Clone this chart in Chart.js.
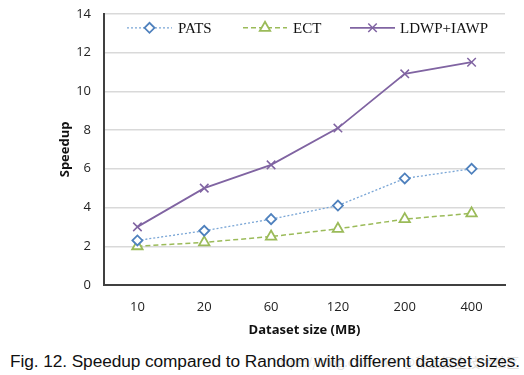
<!DOCTYPE html>
<html>
<head>
<meta charset="utf-8">
<script src="https://cdn.jsdelivr.net/npm/chart.js@4"></script>
<style>
  body { margin: 0; background: #fff; width: 524px; height: 375px; overflow: hidden; position: relative; }
  #wrap { position: absolute; left: 0; top: -7px; width: 524px; height: 349px; }
  #caption { position: absolute; left: 10px; top: 351px; font-family: "Liberation Sans", Arial, sans-serif; font-size: 17.3px; color: #111; white-space: nowrap; }
  #mark { position: absolute; left: 272px; top: 352px; font-family: "Noto Sans CJK SC", sans-serif; font-size: 13px; color: rgba(150,150,150,0.3); white-space: nowrap; }
</style>
</head>
<body>
<div id="wrap"><canvas id="myChart"></canvas></div>
<div id="mark">https://blog.csdn.net @稀土掘金技术社区</div>
<div id="caption">Fig. 12. Speedup compared to Random with different dataset sizes.</div>
<script>
const tamanhos = ["10", "20", "60", "120", "200", "400"];
const pats = [2.3, 2.8, 3.4, 4.1, 5.5, 6.0];
const ect = [2.0, 2.2, 2.5, 2.9, 3.4, 3.7];
const ldwp = [3.0, 5.0, 6.2, 8.1, 10.9, 11.5];
const yTicks = [0, 2, 4, 6, 8, 10, 12, 14];

// ajusta a legenda da figura para ocupar ~500px
const cap = document.getElementById("caption");
const larguraCap = cap.getBoundingClientRect().width;
cap.style.letterSpacing = ((510 - larguraCap) / cap.textContent.length) + "px";

const ctx = document.getElementById("myChart");

// legenda desenhada dentro da area do grafico
const legendaInterna = {
  id: "legendaInterna",
  afterDraw(chart) {
    const c = chart.ctx;
    const y = chart.chartArea.top + 14;
    const itens = [
      { ds: 0, x1: 127, x2: 172, tx: 178 },
      { ds: 1, x1: 243, x2: 287, tx: 293 },
      { ds: 2, x1: 350, x2: 395, tx: 400 },
    ];
    itens.forEach((it) => {
      const ds = chart.data.datasets[it.ds];
      c.save();
      c.strokeStyle = ds.borderColor;
      c.lineWidth = ds.borderWidth;
      c.setLineDash(ds.borderDash || []);
      c.beginPath();
      c.moveTo(it.x1, y);
      c.lineTo(it.x2, y);
      c.stroke();
      c.setLineDash([]);
      c.fillStyle = ds.pointBackgroundColor;
      c.strokeStyle = ds.pointBorderColor;
      c.lineWidth = ds.pointBorderWidth;
      Chart.helpers.drawPoint(c, {
        pointStyle: ds.pointStyle,
        radius: ds.pointRadius,
        borderWidth: ds.pointBorderWidth,
      }, (it.x1 + it.x2) / 2, y);
      c.fillStyle = "#111";
      c.font = "15px 'Liberation Serif', serif";
      c.textBaseline = "middle";
      c.fillText(ds.label, it.tx, y + 1);
      c.restore();
    });
  },
};

new Chart(ctx, {
  type: "line",
  data: {
    labels: tamanhos,
    datasets: [
      {
        label: "PATS",
        data: pats,
        borderColor: "#7aa6d6",
        borderWidth: 1.3,
        borderDash: [2, 2],
        pointStyle: "rectRot",
        pointRadius: 5,
        pointBorderWidth: 1.8,
        pointBorderColor: "#4f81bd",
        pointBackgroundColor: "#ffffff",
      },
      {
        label: "ECT",
        data: ect,
        borderColor: "#9bbb59",
        borderWidth: 1.5,
        borderDash: [5, 3],
        pointStyle: "triangle",
        pointRadius: 6,
        pointBorderWidth: 1.8,
        pointBorderColor: "#9bbb59",
        pointBackgroundColor: "#ffffff",
      },
      {
        label: "LDWP+IAWP",
        data: ldwp,
        borderColor: "#8064a2",
        borderWidth: 1.8,
        pointStyle: "crossRot",
        pointRadius: 6,
        pointBorderWidth: 1.5,
        pointBorderColor: "#8064a2",
        pointBackgroundColor: "#ffffff",
      },
    ],
  },
  options: {
    responsive: true,
    maintainAspectRatio: false,
    animation: false,
    layout: { padding: { left: 53, right: 19, top: 0, bottom: 0 } },
    plugins: {
      legend: { display: false },
      tooltip: { enabled: false },
    },
    scales: {
      x: {
        offset: true,
        grid: { display: false, drawTicks: false },
        border: { display: true, color: "#404040", width: 2 },
        ticks: { color: "#222", padding: 14, font: { family: "'Open Sans', sans-serif", size: 13 } },
        title: {
          display: true,
          text: "Dataset size (MB)",
          color: "#111",
          padding: { top: 4 },
          font: { family: "'Open Sans', sans-serif", size: 13, weight: "bold" },
        },
        afterFit: (scale) => { scale.height = 57; },
      },
      y: {
        min: 0,
        max: 14,
        afterBuildTicks: (scale) => { scale.ticks = yTicks.map((v) => ({ value: v })); },
        grid: { color: "#d9d9d9", lineWidth: 1.5, drawTicks: false },
        border: { display: true, color: "#404040", width: 2 },
        ticks: { color: "#222", padding: 13, font: { family: "'Open Sans', sans-serif", size: 13 } },
        title: {
          display: true,
          text: "Speedup",
          color: "#111",
          padding: { bottom: 2 },
          font: { family: "'Open Sans', sans-serif", size: 13, weight: "bold" },
        },
        afterFit: (scale) => { scale.width = 51; },
      },
    },
  },
  plugins: [legendaInterna],
});
</script>
</body>
</html>
